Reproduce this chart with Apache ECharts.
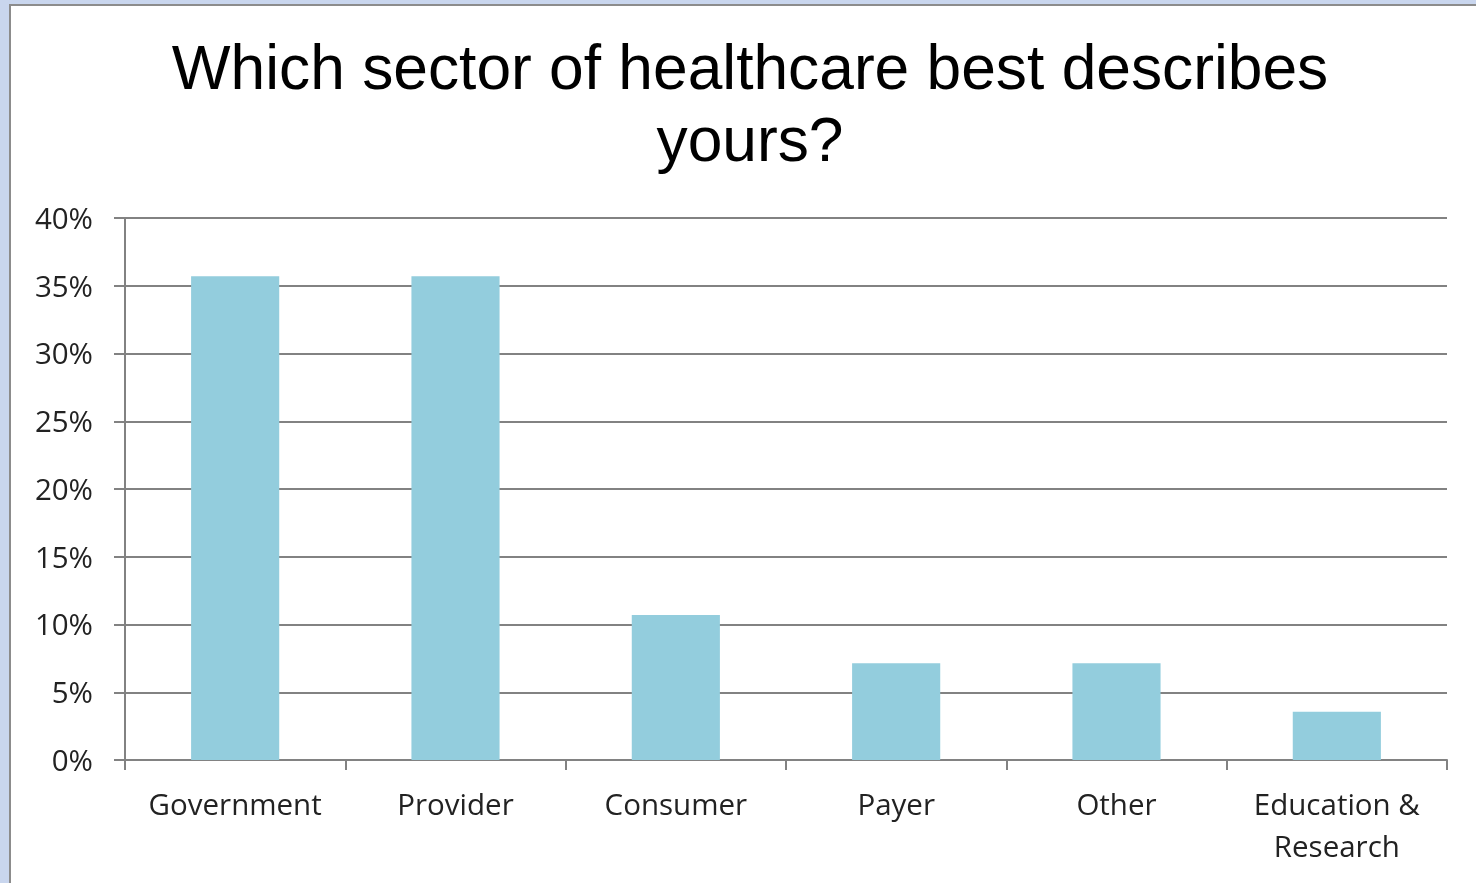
<!DOCTYPE html>
<html>
<head>
<meta charset="utf-8">
<script src="https://cdn.jsdelivr.net/npm/echarts@6/dist/echarts.min.js"></script>
<style>
  html, body { margin: 0; padding: 0; background: #ffffff; }
  #chart { position: absolute; left: 0; top: 0; width: 1476px; height: 883px; }
  /* window frame strips around the slide */
  .strip { position: absolute; pointer-events: none; }
  #blueLeft { left: 0; top: 0; width: 9px; height: 883px; background: #c9d6ee; }
  #blueTop { left: 0; top: 0; width: 1476px; height: 4px; background: #c9d6ee; }
  #edgeLeft { left: 9px; top: 4px; width: 2px; height: 879px; background: #8c8c8c; }
  #edgeTop { left: 9px; top: 4px; width: 1467px; height: 2px; background: #8c8c8c; }
</style>
</head>
<body>
<div id="chart"></div>
<div class="strip" id="blueLeft"></div>
<div class="strip" id="blueTop"></div>
<div class="strip" id="edgeLeft"></div>
<div class="strip" id="edgeTop"></div>
<script>
const titleText = 'Which sector of healthcare best describes\nyours?';
const categories = ['Government', 'Provider', 'Consumer', 'Payer', 'Other', 'Education &\nResearch'];
const shares = [35.71, 35.71, 10.71, 7.14, 7.14, 3.57];
const yTicks = { min: 0, max: 40, step: 5 };

const gridGray = '#828282';
const labelColor = '#222222';
const labelFont = '"Open Sans", "DejaVu Sans", sans-serif';

const chart = echarts.init(document.getElementById('chart'), null, { renderer: 'canvas' });
chart.setOption({
  animation: false,
  backgroundColor: '#ffffff',
  title: {
    text: titleText,
    left: 745,
    top: 31,
    textAlign: 'center',
    textStyle: {
      fontFamily: '"Liberation Sans", Arial, sans-serif',
      fontSize: 62.3,
      fontWeight: 'normal',
      lineHeight: 72,
      color: '#000000'
    }
  },
  grid: { left: 125, right: 29, top: 218, bottom: 123, containLabel: false, outerBoundsMode: 'none' },
  xAxis: {
    type: 'category',
    data: categories,
    boundaryGap: true,
    axisLine: { show: true, lineStyle: { color: gridGray, width: 2 } },
    axisTick: { show: true, length: 10, alignWithLabel: false, lineStyle: { color: gridGray, width: 2 } },
    axisLabel: {
      interval: 0,
      margin: 26,
      fontFamily: labelFont,
      fontSize: 29.5,
      lineHeight: 42,
      color: labelColor
    },
    splitLine: { show: false }
  },
  yAxis: {
    type: 'value',
    min: yTicks.min,
    max: yTicks.max,
    interval: yTicks.step,
    axisLine: { show: true, lineStyle: { color: gridGray, width: 2 } },
    axisTick: { show: true, length: 11, lineStyle: { color: gridGray, width: 2 } },
    axisLabel: {
      margin: 32,
      formatter: v => '{p|' + v + '%}',
      rich: {
        p: {
          fontFamily: labelFont,
          fontSize: 29.5,
          color: labelColor,
          padding: [5, 0, 0, 0]
        }
      }
    },
    splitLine: { show: true, lineStyle: { color: gridGray, width: 2 } }
  },
  series: [{
    type: 'bar',
    data: shares,
    barWidth: '40%',
    itemStyle: { color: '#93cddd' }
  }]
});
</script>
</body>
</html>
